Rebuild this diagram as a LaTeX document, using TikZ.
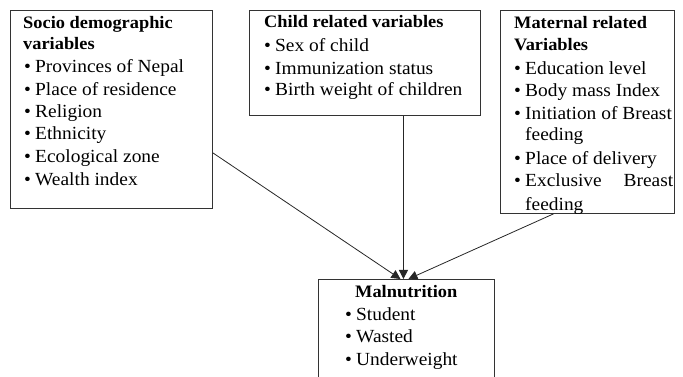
\documentclass[tikz,border=0pt]{standalone}
\usepackage{fontspec}
\setmainfont[FakeStretch=1.05]{Liberation Serif}
\usetikzlibrary{arrows.meta}
\newcommand\bul{\makebox[11pt][l]{\textbullet}}
\begin{document}
\begin{tikzpicture}[x=1pt,y=1pt,
  box/.style={draw=black!80, line width=0.9pt, inner sep=0pt, anchor=north west},
  ttl/.style={anchor=base west, inner sep=0pt, font=\fontsize{17.5}{20}\selectfont\bfseries},
  itm/.style={anchor=base west, inner sep=0pt, font=\fontsize{18.5}{21}\selectfont},
  conn/.style={draw=black!85, line width=0.8pt, -{Triangle[length=9pt,width=9pt]}}]
\useasboundingbox (0,0) rectangle (683,377);
\clip (0,0) rectangle (683,377);
% boxes
\node[box, minimum width=202pt, minimum height=198pt] (b1) at (10,367) {};
\node[box, minimum width=231pt, minimum height=105pt] (b2) at (249,367) {};
\node[box, minimum width=174pt, minimum height=203pt] (b3) at (500,367) {};
\node[box, minimum width=176pt, minimum height=130pt] (b4) at (318,98) {};
% box 1 text
\node[ttl] (b1t1) at (23,348) {Socio demographic};
\node[ttl] (b1t2) at (23,327) {variables};
\node[itm] (b1i1) at (24,304) {\bul Provinces of Nepal};
\node[itm] (b1i2) at (24,281) {\bul Place of residence};
\node[itm] (b1i3) at (24,259) {\bul Religion};
\node[itm] (b1i4) at (24,237) {\bul Ethnicity};
\node[itm] (b1i5) at (24,214) {\bul Ecological zone};
\node[itm] (b1i6) at (24,191) {\bul Wealth index};
% box 2 text
\node[ttl] (b2t1) at (264,349) {Child related variables};
\node[itm] (b2i1) at (264,325) {\bul Sex of child};
\node[itm] (b2i2) at (264,302) {\bul Immunization status};
\node[itm] (b2i3) at (264,281) {\bul Birth weight of children};
% box 3 text
\node[ttl] (b3t1) at (514,348) {Maternal related};
\node[ttl] (b3t2) at (514,326) {Variables};
\node[itm] (b3i1) at (514,302) {\bul Education level};
\node[itm] (b3i2) at (514,280) {\bul Body mass Index};
\node[itm] (b3i3) at (514,257) {\bul Initiation of Breast};
\node[itm] (b3i4) at (525,236) {feeding};
\node[itm] (b3i5) at (514,212) {\bul Place of delivery};
\node[itm] (b3i6) at (514,190) {\bul\makebox[148pt][l]{Exclusive\hfill Breast}};
\begin{scope}
  \clip (b3.north west) rectangle (b3.south east);
  \node[itm] (b3i7) at (525,166) {feeding};
\end{scope}
% box 4 text
\node[ttl] (b4t1) at (355,79) {Malnutrition};
\node[itm] (b4i1) at (345,56) {\bul Student};
\node[itm] (b4i2) at (345,34) {\bul Wasted};
\node[itm] (b4i3) at (345,11) {\bul Underweight};
% connectors
\coordinate (t1) at ([xshift=-6pt]b4.north);
\coordinate (t2) at ([xshift=-3pt]b4.north);
\coordinate (t3) at ([xshift=2pt]b4.north);
\draw[conn] ([yshift=56pt]b1.south east) -- (t1);
\draw[conn] (b2.south -| t2) -- (t2);
\draw[conn] ([xshift=-34pt]b3.south) -- (t3);
\end{tikzpicture}
\end{document}
